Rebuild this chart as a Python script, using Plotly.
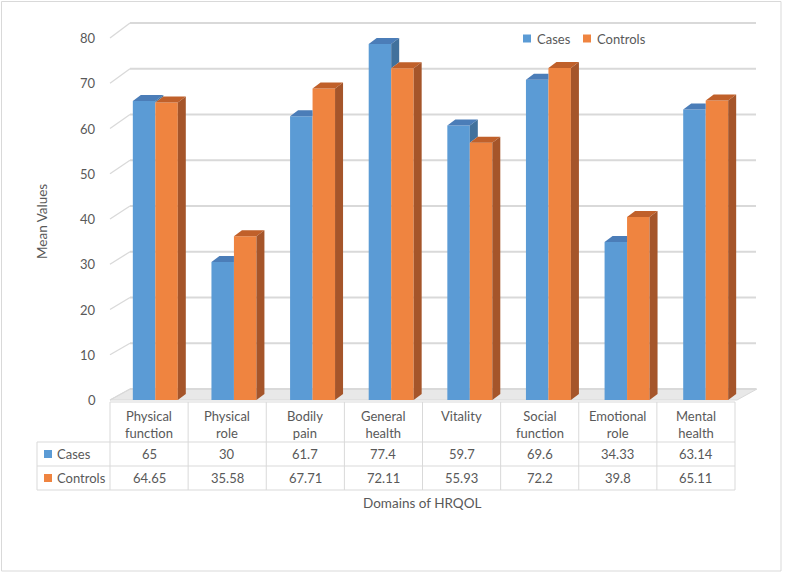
import plotly.graph_objects as go

# ---------------- data ----------------
categories = ["Physical<br>function", "Physical<br>role", "Bodily<br>pain", "General<br>health",
              "Vitality", "Social<br>function", "Emotional<br>role", "Mental<br>health"]
cases = [65, 30, 61.7, 77.4, 59.7, 69.6, 34.33, 63.14]
controls = [64.65, 35.58, 67.71, 72.11, 55.93, 72.2, 39.8, 65.11]
cases_labels = ["65", "30", "61.7", "77.4", "59.7", "69.6", "34.33", "63.14"]
controls_labels = ["64.65", "35.58", "67.71", "72.11", "55.93", "72.2", "39.8", "65.11"]
y_ticks = [0, 10, 20, 30, 40, 50, 60, 70, 80]
series_names = ["Cases", "Controls"]

# ---------------- styling ----------------
W, H = 788, 574
ML, MR, MT, MB = 116, 43, 32, 174
PW, PH = W - ML - MR, H - MT - MB
YMAX = 80
FONT = "Lato"
TXT = "#595959"
GRID = "#D9D9D9"
C_FRONT = ["#5B9BD5", "#EF8440"]
C_TOP = ["#4B7DB8", "#C0602A"]
C_SIDE = ["#41719C", "#A5552A"]

BW = 0.286          # bar width (category units)
DX = 8 / (PW / 8)   # depth offset in x (category units)
DY = 6 / (PH / YMAX)  # depth offset in y (value units)


def px(X):
    return (X - ML) / PW


def py(Y):
    return (MT + PH - Y) / PH


xs = list(range(len(categories)))
fig = go.Figure()

# front faces
fig.add_trace(go.Bar(x=xs, y=cases, width=BW, offset=-BW, name=series_names[0],
                     marker=dict(color=C_FRONT[0], line=dict(width=0)), showlegend=False))
fig.add_trace(go.Bar(x=xs, y=controls, width=BW, offset=0, name=series_names[1],
                     marker=dict(color=C_FRONT[1], line=dict(width=0)), showlegend=False))

# 3D faces (top / side) from data values
ct_x, ct_y, cs_x, cs_y, kt_x, kt_y, ks_x, ks_y = [], [], [], [], [], [], [], []
for i, (vc, vk) in enumerate(zip(cases, controls)):
    if vc < vk:
        ct_x += [i - BW, i, i, i - BW + DX, i - BW, None]
        ct_y += [vc, vc, vc + DY, vc + DY, vc, None]
    else:
        ct_x += [i - BW, i, i + DX, i - BW + DX, i - BW, None]
        ct_y += [vc, vc, vc + DY, vc + DY, vc, None]
        cs_x += [i, i + DX, i + DX, i, i, None]
        cs_y += [vk, vk + DY, vc + DY, vc, vk, None]
    kt_x += [i, i + BW, i + BW + DX, i + DX, i, None]
    kt_y += [vk, vk, vk + DY, vk + DY, vk, None]
    ks_x += [i + BW, i + BW + DX, i + BW + DX, i + BW, i + BW, None]
    ks_y += [0, DY, vk + DY, vk, 0, None]

for fx, fy, col in [(ct_x, ct_y, C_TOP[0]), (cs_x, cs_y, C_SIDE[0]),
                    (kt_x, kt_y, C_TOP[1]), (ks_x, ks_y, C_SIDE[1])]:
    fig.add_trace(go.Scatter(x=fx, y=fy, mode="lines", fill="toself", fillcolor=col,
                             line=dict(width=0, color=col), hoverinfo="skip", showlegend=False))

shapes = []
annotations = []

# floor
shapes.append(dict(type="path", xref="paper", yref="paper", layer="below",
                   path=f"M{px(110)},{py(400)} L{px(737)},{py(400)} L{px(757)},{py(389)} L{px(130)},{py(389)} Z",
                   fillcolor="#E8E8E8", line=dict(color=GRID, width=1)))

# back wall gridlines + diagonal ticks + labels
for v in y_ticks:
    yb = 389 - v * (366 / 80)
    yf = 400 - v * (362 / 80)
    shapes.append(dict(type="line", xref="paper", yref="paper", layer="below",
                       x0=px(130), x1=px(756), y0=py(yb), y1=py(yb), line=dict(color=GRID, width=2)))
    shapes.append(dict(type="line", xref="paper", yref="paper", layer="below",
                       x0=px(110), x1=px(130), y0=py(yf), y1=py(yb), line=dict(color=GRID, width=1.3)))
    annotations.append(dict(xref="paper", yref="paper", x=px(98), y=py(yf), text=str(v),
                            xanchor="right", yanchor="middle", showarrow=False,
                            font=dict(family=FONT, size=13, color=TXT)))

# data table
T_L, T_C0, T_R = 37, 110, 735
CW = (T_R - T_C0) / len(categories)
R_TOP, R_H, R_1, R_2 = 402, 442, 466, 490
for yy in [R_H, R_1, R_2]:
    shapes.append(dict(type="line", xref="paper", yref="paper", x0=px(T_L), x1=px(T_R),
                       y0=py(yy), y1=py(yy), line=dict(color=GRID, width=1)))
shapes.append(dict(type="line", xref="paper", yref="paper", x0=px(T_C0), x1=px(T_R),
                   y0=py(R_TOP), y1=py(R_TOP), line=dict(color=GRID, width=1)))
shapes.append(dict(type="line", xref="paper", yref="paper", x0=px(T_L), x1=px(T_L),
                   y0=py(R_H), y1=py(R_2), line=dict(color=GRID, width=1)))
for j in range(len(categories) + 1):
    xx = T_C0 + j * CW
    shapes.append(dict(type="line", xref="paper", yref="paper", x0=px(xx), x1=px(xx),
                       y0=py(R_TOP), y1=py(R_2), line=dict(color=GRID, width=1)))

for j, cat in enumerate(categories):
    cx = T_C0 + (j + 0.5) * CW
    annotations.append(dict(xref="paper", yref="paper", x=px(cx), y=py(406), text=cat,
                            xanchor="center", yanchor="top", showarrow=False,
                            font=dict(family=FONT, size=13, color=TXT)))
    annotations.append(dict(xref="paper", yref="paper", x=px(cx), y=py(454), text=cases_labels[j],
                            xanchor="center", yanchor="middle", showarrow=False,
                            font=dict(family=FONT, size=13, color=TXT)))
    annotations.append(dict(xref="paper", yref="paper", x=px(cx), y=py(478), text=controls_labels[j],
                            xanchor="center", yanchor="middle", showarrow=False,
                            font=dict(family=FONT, size=13, color=TXT)))

# table row keys
for k, (yc, name) in enumerate([(454, series_names[0]), (478, series_names[1])]):
    shapes.append(dict(type="rect", xref="paper", yref="paper", x0=px(44), x1=px(52),
                       y0=py(yc - 4), y1=py(yc + 4), fillcolor=C_FRONT[k], line=dict(width=0)))
    annotations.append(dict(xref="paper", yref="paper", x=px(55), y=py(yc), text=name,
                            xanchor="left", yanchor="middle", showarrow=False,
                            font=dict(family=FONT, size=13, color=TXT)))

# top legend
for k, (x0, name) in enumerate([(523, series_names[0]), (583, series_names[1])]):
    shapes.append(dict(type="rect", xref="paper", yref="paper", x0=px(x0), x1=px(x0 + 8),
                       y0=py(34.5), y1=py(42.5), fillcolor=C_FRONT[k], line=dict(width=0)))
    annotations.append(dict(xref="paper", yref="paper", x=px(x0 + 12), y=py(38.5), text=name,
                            xanchor="left", yanchor="middle", showarrow=False,
                            font=dict(family=FONT, size=13, color=TXT)))

# axis titles
annotations.append(dict(xref="paper", yref="paper", x=px(42), y=py(222), text="Mean Values",
                        textangle=-90, xanchor="center", yanchor="middle", showarrow=False,
                        font=dict(family=FONT, size=13.5, color=TXT)))
annotations.append(dict(xref="paper", yref="paper", x=px(422), y=py(503), text="Domains of HRQOL",
                        xanchor="center", yanchor="middle", showarrow=False,
                        font=dict(family=FONT, size=13.5, color=TXT)))

# outer frame
shapes.append(dict(type="rect", xref="paper", yref="paper", x0=px(1.5), x1=px(781), y0=py(1.5), y1=py(571),
                   line=dict(color=GRID, width=1), fillcolor="rgba(0,0,0,0)", layer="below"))

fig.update_layout(
    width=W, height=H,
    margin=dict(l=ML, r=MR, t=MT, b=MB, pad=0),
    paper_bgcolor="white", plot_bgcolor="rgba(0,0,0,0)",
    barmode="overlay",
    xaxis=dict(range=[-0.5, 7.5], visible=False, fixedrange=True),
    yaxis=dict(range=[0, YMAX], visible=False, fixedrange=True),
    shapes=shapes, annotations=annotations,
    showlegend=False,
)

fig.write_html("out.html", config={"displayModeBar": False},
               post_script="document.body.style.margin='0';")
